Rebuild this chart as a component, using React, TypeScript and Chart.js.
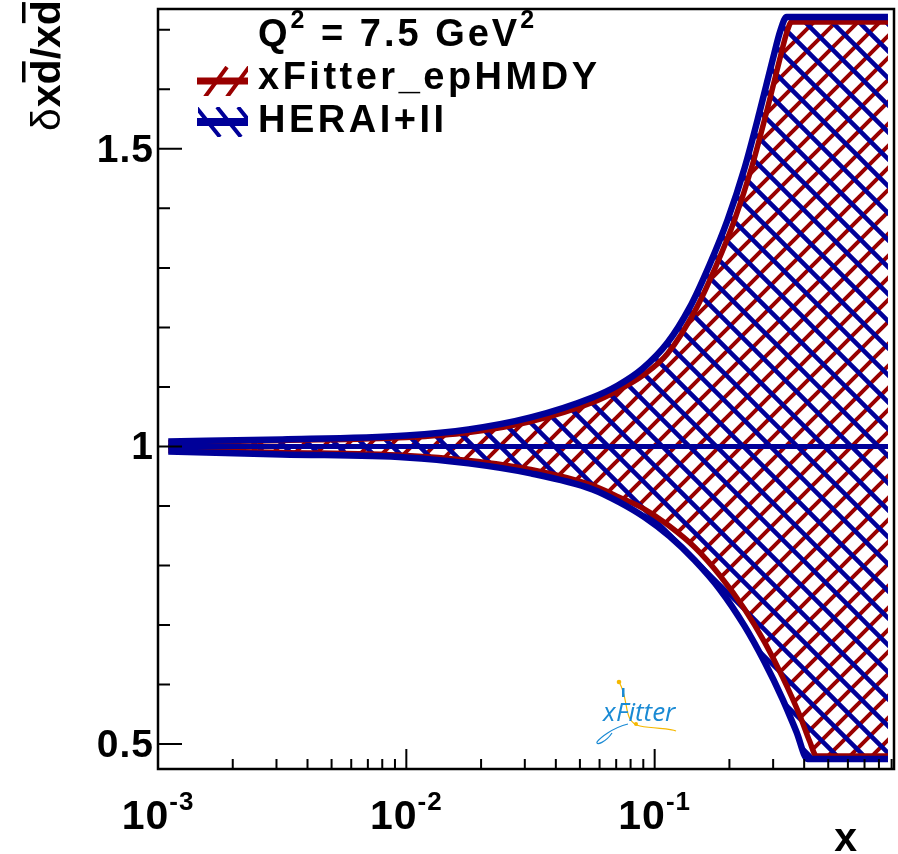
import React, { useEffect, useRef } from 'react';
import { Chart, registerables } from 'chart.js';

Chart.register(...registerables);

// ---- data: relative uncertainty bands of x·dbar at Q^2 = 7.5 GeV^2 ----
const LOW_X = [0.0011, 0.00316, 0.01, 0.0178, 0.0317, 0.0562];

const HERA_UP_X = [...LOW_X, 0.071, 0.0895, 0.1128, 0.1383, 0.1664, 0.1967, 0.2303, 0.2646, 0.2985, 0.3214, 0.3398, 0.87];
const HERA_UP = [1.0084, 1.0117, 1.0185, 1.0285, 1.0487, 1.0822, 1.1023, 1.1309, 1.1745, 1.2332, 1.3054, 1.3809, 1.4681, 1.5621, 1.6493, 1.6997, 1.7215, 1.7215];

const EP_UP_X = [...LOW_X, 0.071, 0.0895, 0.1128, 0.1476, 0.1776, 0.2099, 0.2456, 0.2823, 0.3184, 0.3398, 0.3558, 0.87];
const EP_UP = [1.0067, 1.0101, 1.0151, 1.0235, 1.0419, 1.0738, 1.094, 1.1191, 1.156, 1.2332, 1.3054, 1.3809, 1.4681, 1.5621, 1.6493, 1.6946, 1.7131, 1.7131];

const HERA_DN_X = [...LOW_X, 0.0723, 0.0912, 0.1149, 0.1449, 0.1827, 0.2303, 0.2771, 0.3274, 0.3726, 0.4127, 0.87];
const HERA_DN = [0.9916, 0.9866, 0.9815, 0.9715, 0.9547, 0.9279, 0.906, 0.8809, 0.849, 0.8087, 0.7601, 0.698, 0.6376, 0.5755, 0.5201, 0.4748, 0.4748];

const EP_DN_X = [...LOW_X, 0.0723, 0.0912, 0.1149, 0.1449, 0.1827, 0.2303, 0.2771, 0.3274, 0.3834, 0.4204, 0.4486, 0.87];
const EP_DN = [0.9933, 0.9899, 0.9849, 0.9765, 0.9614, 0.9346, 0.9144, 0.8943, 0.8658, 0.8305, 0.7836, 0.7265, 0.6711, 0.6124, 0.5487, 0.505, 0.4799, 0.4799];

const CENTRAL_X = [0.0011, 0.87];
const CENTRAL = [1, 1];

// ---- axes ----
const X_MIN = 0.001;
const X_MAX = 0.92;
const Y_MIN = 0.458;
const Y_MAX = 1.735;

const X_MAJOR = [0.001, 0.01, 0.1];
const X_MAJOR_EXP = ['-3', '-2', '-1'];
const X_MINOR = [
  0.002, 0.003, 0.004, 0.005, 0.006, 0.007, 0.008, 0.009,
  0.02, 0.03, 0.04, 0.05, 0.06, 0.07, 0.08, 0.09,
  0.2, 0.3, 0.4, 0.5, 0.6, 0.7, 0.8, 0.9,
];
const Y_MAJOR = [0.5, 1, 1.5];
const Y_MAJOR_LABELS = ['0.5', '1', '1.5'];
const Y_MINOR = [0.6, 0.7, 0.8, 0.9, 1.1, 1.2, 1.3, 1.4, 1.6, 1.7];

const SERIES_NAMES = ['xFitter_epHMDY', 'HERAI+II'];

const RED = '#990000';
const BLUE = '#000099';
const FONT = '"Liberation Sans", Arial, Helvetica, sans-serif';

const pts = (xs: number[], ys: number[]) => xs.map((x, i) => ({ x, y: ys[i] }));

// diagonal hatch tile; dir 1 = "/" lines, dir -1 = "\" lines
function hatch(color: string, period: number, width: number, dir: 1 | -1) {
  const c = document.createElement('canvas');
  c.width = period;
  c.height = period;
  const g = c.getContext('2d')!;
  g.strokeStyle = color;
  g.lineWidth = width;
  g.lineCap = 'butt';
  g.beginPath();
  for (let k = -1; k <= 1; k++) {
    if (dir > 0) {
      g.moveTo(k * period - 2, period + 2);
      g.lineTo(k * period + period + 2, -2);
    } else {
      g.moveTo(k * period - 2, -2);
      g.lineTo(k * period + period + 2, period + 2);
    }
  }
  g.stroke();
  return g.createPattern(c, 'repeat')!;
}

function setFont(ctx: CanvasRenderingContext2D, size: number, weight = 'bold', style = 'normal') {
  ctx.font = `${style} ${weight} ${size}px ${FONT}`;
}

type Part = { t: string; sup?: boolean };
function drawParts(
  ctx: CanvasRenderingContext2D,
  parts: Part[],
  x: number,
  y: number,
  size: number,
  supSize: number,
  rise: number,
  spacing: number,
  measureOnly = false
) {
  let cx = x;
  for (const p of parts) {
    setFont(ctx, p.sup ? supSize : size);
    (ctx as any).letterSpacing = `${spacing}px`;
    const w = ctx.measureText(p.t).width;
    if (!measureOnly) ctx.fillText(p.t, cx, p.sup ? y - rise : y);
    cx += w;
  }
  return cx - x;
}

const rootStyle = {
  id: 'rootStyle',
  afterDatasetsDraw(chart: any) {
    const { ctx, chartArea: a, scales } = chart;
    const xs = scales.x;
    const ys = scales.y;
    ctx.save();
    ctx.strokeStyle = '#000';
    ctx.fillStyle = '#000';

    // frame
    ctx.lineWidth = 2.5;
    ctx.strokeRect(a.left, a.top, a.right - a.left, a.bottom - a.top);

    // ticks
    ctx.lineWidth = 2;
    ctx.beginPath();
    for (const v of X_MAJOR) {
      const p = xs.getPixelForValue(v);
      ctx.moveTo(p, a.bottom);
      ctx.lineTo(p, a.bottom - 20);
    }
    for (const v of X_MINOR) {
      if (v > X_MAX) continue;
      const p = xs.getPixelForValue(v);
      ctx.moveTo(p, a.bottom);
      ctx.lineTo(p, a.bottom - 10);
    }
    for (const v of Y_MAJOR) {
      const p = ys.getPixelForValue(v);
      ctx.moveTo(a.left, p);
      ctx.lineTo(a.left + 24, p);
    }
    for (const v of Y_MINOR) {
      const p = ys.getPixelForValue(v);
      ctx.moveTo(a.left, p);
      ctx.lineTo(a.left + 12, p);
    }
    ctx.stroke();

    // y tick labels
    ctx.textBaseline = 'middle';
    ctx.textAlign = 'right';
    setFont(ctx, 39);
    (ctx as any).letterSpacing = '1px';
    Y_MAJOR.forEach((v, i) => {
      ctx.fillText(Y_MAJOR_LABELS[i], a.left - 4, ys.getPixelForValue(v) + 2);
    });

    // x tick labels 10^n
    ctx.textBaseline = 'alphabetic';
    ctx.textAlign = 'left';
    X_MAJOR.forEach((v, i) => {
      const parts: Part[] = [{ t: '10' }, { t: X_MAJOR_EXP[i], sup: true }];
      const w = drawParts(ctx, parts, 0, 0, 41, 26, 19, 1, true);
      const cx = xs.getPixelForValue(v);
      drawParts(ctx, parts, cx - w / 2, 829, 41, 26, 19, 1);
    });

    // x axis title
    setFont(ctx, 41);
    (ctx as any).letterSpacing = '0px';
    ctx.textAlign = 'right';
    ctx.fillText('x', 857, 851);

    // y axis title: δ x dbar / x dbar, rotated
    ctx.save();
    ctx.translate(60, 131);
    ctx.rotate(-Math.PI / 2);
    ctx.textAlign = 'left';
    setFont(ctx, 41, 'normal');
    let cx = 0;
    ctx.fillText('δ', cx, 0);
    cx += ctx.measureText('δ').width + 1;
    setFont(ctx, 41);
    const seq = ['x', 'd', '/', 'x', 'd'];
    for (const ch of seq) {
      const w = ctx.measureText(ch).width;
      ctx.fillText(ch, cx, 0);
      if (ch === 'd') ctx.fillRect(cx + 2, -38, w - 4, 3.5);
      cx += w;
    }
    ctx.restore();

    // header and legend
    ctx.textAlign = 'left';
    drawParts(ctx, [{ t: 'Q' }, { t: '2', sup: true }, { t: ' = 7.5 GeV' }, { t: '2', sup: true }], 258, 46, 38, 25, 18, 3);
    setFont(ctx, 38);
    (ctx as any).letterSpacing = '3.5px';
    ctx.fillText(SERIES_NAMES[0], 258, 89);
    ctx.fillText(SERIES_NAMES[1], 258, 132);
    (ctx as any).letterSpacing = '0px';

    // legend symbols
    const sym = (yc: number, color: string, lw: number, strokes: number[][]) => {
      ctx.save();
      ctx.beginPath();
      ctx.rect(198, yc - 15, 50, 30);
      ctx.clip();
      ctx.strokeStyle = color;
      ctx.lineWidth = 4;
      ctx.beginPath();
      for (const s of strokes) {
        ctx.moveTo(s[0], s[1]);
        ctx.lineTo(s[2], s[3]);
      }
      ctx.stroke();
      ctx.restore();
      ctx.fillStyle = color;
      ctx.fillRect(197, yc - lw / 2, 51, lw);
    };
    sym(81, RED, 7, [
      [205, 97, 227, 67],
      [227, 97, 249, 67],
    ]);
    sym(122, BLUE, 8, [
      [196, 107, 220, 137],
      [217, 107, 241, 137],
      [238, 107, 262, 137],
    ]);

    // xFitter logo
    ctx.lineWidth = 1.2;
    ctx.strokeStyle = '#f5b800';
    ctx.beginPath();
    ctx.moveTo(619, 682);
    ctx.bezierCurveTo(630, 700, 622, 722, 640, 726);
    ctx.bezierCurveTo(655, 729, 670, 728, 676, 731);
    ctx.stroke();
    ctx.fillStyle = '#f5b800';
    ctx.beginPath();
    ctx.arc(619, 682, 2.3, 0, Math.PI * 2);
    ctx.fill();
    ctx.beginPath();
    ctx.arc(636, 724, 2, 0, Math.PI * 2);
    ctx.fill();
    ctx.strokeStyle = '#1a8ad4';
    ctx.beginPath();
    ctx.moveTo(628, 724);
    ctx.bezierCurveTo(612, 728, 600, 738, 597, 742);
    ctx.bezierCurveTo(596, 746, 606, 742, 612, 733);
    ctx.stroke();
    ctx.fillStyle = '#1a8ad4';
    ctx.fillRect(622, 688, 2.5, 9);
    ctx.font = `italic 400 26px "Open Sans", "DejaVu Sans", sans-serif`;
    ctx.fillText('x', 603, 721);
    ctx.fillText('Fitter', 616, 721);

    ctx.restore();
  },
};

export default function App() {
  const ref = useRef<HTMLCanvasElement | null>(null);

  useEffect(() => {
    const canvas = ref.current;
    if (!canvas) return;
    const redHatch = hatch(RED, 22, 4, 1);
    const blueHatch = hatch(BLUE, 27, 4.5, -1);

    const line = (data: any[], color: string, width: number, extra: any = {}) => ({
      data,
      borderColor: color,
      borderWidth: width,
      pointRadius: 0,
      cubicInterpolationMode: 'monotone',
      borderJoinStyle: 'round',
      fill: false,
      ...extra,
    });

    const chart = new Chart(canvas, {
      type: 'line',
      data: {
        datasets: [
          line(pts(CENTRAL_X, CENTRAL), BLUE, 5, { label: 'HERAI+II' }),
          line(pts(HERA_UP_X, HERA_UP), BLUE, 6.5, { label: 'HERAI+II up', fill: '+1', backgroundColor: blueHatch }),
          line(pts(HERA_DN_X, HERA_DN), BLUE, 6.5, { label: 'HERAI+II down' }),
          line(pts(CENTRAL_X, CENTRAL), RED, 5, { label: 'xFitter_epHMDY' }),
          line(pts(EP_UP_X, EP_UP), RED, 5.5, { label: 'xFitter_epHMDY up', fill: '+1', backgroundColor: redHatch }),
          line(pts(EP_DN_X, EP_DN), RED, 5.5, { label: 'xFitter_epHMDY down' }),
        ] as any,
      },
      options: {
        responsive: false,
        animation: false,
        devicePixelRatio: 1,
        layout: { padding: { left: 158, top: 9, right: 4, bottom: 85 } },
        scales: {
          x: { type: 'logarithmic', min: X_MIN, max: X_MAX, display: false },
          y: { type: 'linear', min: Y_MIN, max: Y_MAX, display: false },
        },
        plugins: {
          legend: { display: false },
          tooltip: { enabled: false },
          filler: { drawTime: 'beforeDatasetsDraw', propagate: false },
        },
      } as any,
      plugins: [rootStyle],
    });
    return () => chart.destroy();
  }, []);

  return (
    <div style={{ position: 'absolute', left: 0, top: 0, width: 898, height: 854, background: '#fff' }}>
      <canvas ref={ref} width={898} height={854} style={{ display: 'block' }} />
    </div>
  );
}
